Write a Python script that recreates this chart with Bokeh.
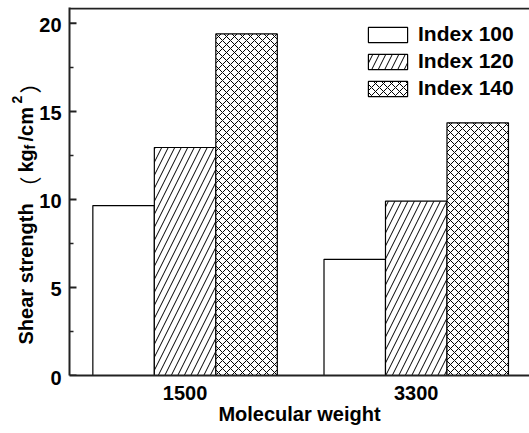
import math
from bokeh.plotting import figure
from bokeh.layouts import row
from bokeh.models import Range1d, Span, Legend, LegendItem, FixedTicker
from bokeh.core.properties import value
from bokeh.embed import file_html
from bokeh.resources import INLINE

groups = ["1500", "3300"]
series = ["Index 100", "Index 120", "Index 140"]
index100 = [9.65, 6.6]
index120 = [12.95, 9.9]
index140 = [19.4, 14.35]
y_ticks = [0, 5, 10, 15, 20]
y_minor = [2.5, 7.5, 12.5, 17.5]
x_label = "Molecular weight"
y_label_parts = ["Shear strength", "（", "kg", "f", "/cm", "2", "）"]

FONT = "Liberation Sans"
CJK = "Noto Sans CJK SC"
X0, X1 = 0.5, 2.49
Y0, Y1 = 0, 20.9
LW = 62                 # side panel: y tick labels + y-axis title
W, H = 529 - LW, 433
ML, MT, MB = 69 - LW, 7, 58
px_y = (H - MT - MB) / (Y1 - Y0)
px_x = (W - ML) / (X1 - X0)
CORR = 5                # vertical alignment correction of the side panel

# ---- side panel (shares the vertical scale of the chart) ----
side = figure(title=None, frame_width=LW, frame_height=H, output_backend="svg",
              toolbar_location=None,
              x_range=Range1d(0, LW),
              y_range=Range1d(Y0 - (MB + CORR) / px_y, Y1 + (MT - CORR) / px_y),
              x_axis_type=None, y_axis_type=None,
              min_border_left=0, min_border_right=0, min_border_top=0,
              min_border_bottom=0)
side.outline_line_color = None
side.grid.visible = False

# tick labels
side.text(x=[LW - 1] * len(y_ticks), y=y_ticks, text=[str(t) for t in y_ticks],
          text_align="right", text_baseline="middle", text_font=value(FONT),
          text_font_style="bold", text_font_size="20px", text_color="black")

# composed axis title (rotated)
base_x = 25
fonts = [FONT, CJK, FONT, FONT, FONT, FONT, CJK]
styles = ["bold", "normal", "bold", "bold", "bold", "bold", "normal"]
sizes = [20, 22, 20, 14, 20, 14, 22]
shifts = [0, 2, 0, 4, 0, -9, 2]
starts = [342, 196, 170, 147, 139, 101, 91]   # page y where each piece begins
for txt, fn, stl, fs, sh, st in zip(y_label_parts, fonts, styles, sizes,
                                     shifts, starts):
    side.text(x=[base_x + sh], y=[(375 - st) / px_y], text=[txt],
              angle=math.pi / 2, text_align="left", text_baseline="alphabetic",
              text_font=value(fn), text_font_style=stl,
              text_font_size=f"{fs}px", text_color="black")

# ---- main chart ----
p = figure(title=None, width=W, height=H, output_backend="svg",
           toolbar_location=None,
           x_range=Range1d(X0, X1), y_range=Range1d(Y0, Y1),
           min_border_left=ML, min_border_top=MT, min_border_right=0,
           min_border_bottom=MB)
p.outline_line_color = None
p.grid.visible = False

xs = [i + 1 for i in range(len(groups))]
bw = 0.266
common = dict(width=bw, fill_color="white", line_color="black", line_width=1.2)
r1 = p.vbar(x=[v - bw for v in xs], top=index100, **common)
r2 = p.vbar(x=xs, top=index120, hatch_pattern="/", hatch_scale=13,
            hatch_color="black", hatch_weight=1, **common)
r3 = p.vbar(x=[v + bw for v in xs], top=index140, hatch_pattern="x",
            hatch_scale=8, hatch_color="black", hatch_weight=1, **common)

# top border line
p.add_layout(Span(location=20.85, dimension="width", line_color="#222222",
                  line_width=2))

# y axis: line + minor ticks from the axis, major (inward) ticks as segments
yax = p.yaxis[0]
yax.ticker = FixedTicker(ticks=[], minor_ticks=y_minor)
yax.axis_line_color = "#222222"
yax.axis_line_width = 2
yax.minor_tick_in = 4
yax.minor_tick_out = 0
yax.minor_tick_line_width = 1.5
yax.minor_tick_line_color = "#222222"
yax.major_tick_line_color = None
yax.major_label_standoff = 0
p.segment(x0=[X0] * len(y_ticks), y0=y_ticks,
          x1=[X0 + 7 / px_x] * len(y_ticks), y1=y_ticks,
          line_color="#222222", line_width=2)

xax = p.xaxis[0]
xax.ticker = FixedTicker(ticks=xs)
xax.major_label_overrides = {xs[i]: groups[i] for i in range(len(groups))}
xax.axis_line_color = "#222222"
xax.axis_line_width = 2
xax.major_tick_line_color = None
xax.minor_tick_line_color = None
xax.major_label_text_font = FONT
xax.major_label_text_font_style = "bold"
xax.major_label_text_font_size = "20px"
xax.major_label_text_color = "black"
xax.major_label_standoff = 4
xax.axis_label = x_label
xax.axis_label_text_font = FONT
xax.axis_label_text_font_style = "bold"
xax.axis_label_text_font_size = "20px"
xax.axis_label_text_color = "black"
xax.axis_label_standoff = 0

legend = Legend(items=[LegendItem(label=series[0], renderers=[r1]),
                       LegendItem(label=series[1], renderers=[r2]),
                       LegendItem(label=series[2], renderers=[r3])],
                location=(294, 275), orientation="vertical",
                glyph_width=49, glyph_height=19, label_standoff=6,
                label_text_font=FONT, label_text_font_style="bold",
                label_text_font_size="21px", label_text_color="black",
                spacing=3, padding=0, margin=0,
                border_line_color=None, background_fill_alpha=0)
p.add_layout(legend)

layout = row(side, p, spacing=0)
open("out.html", "w").write(file_html(layout, INLINE))
